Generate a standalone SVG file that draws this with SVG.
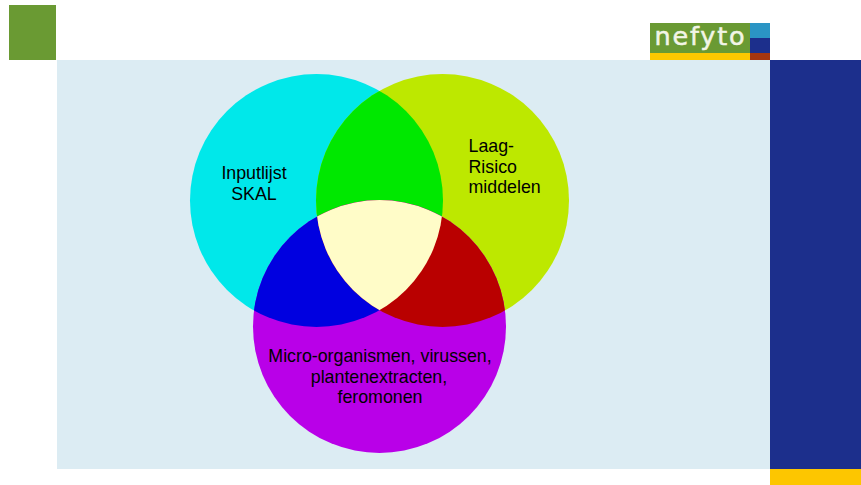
<svg xmlns="http://www.w3.org/2000/svg" width="861" height="485" viewBox="0 0 861 485">
<style>
.l{font-family:"Liberation Sans",Arial,sans-serif;font-size:17.8px;fill:#000;text-anchor:middle}
.s{text-anchor:start}
</style>
<defs>
<clipPath id="cc"><circle cx="316.5" cy="200.5" r="126.5"/></clipPath>
<clipPath id="cl"><circle cx="442.5" cy="200.5" r="126.5"/></clipPath>
</defs>
<rect width="861" height="485" fill="#fff"/>
<g id="background">
<rect x="57" y="60" width="713" height="409" fill="#dcecf3"/>
<rect x="770" y="60" width="91" height="409" fill="#1c2f8c"/>
<rect x="770" y="469" width="91" height="16" fill="#fdc600"/>
<rect x="9" y="5" width="47" height="55" fill="#6a9a33"/>
</g>
<g id="logo">
<rect x="650" y="23" width="110" height="30" fill="#6a9a33"/>
<rect x="650" y="53" width="100" height="7" fill="#fdc800"/>
<rect x="750" y="23" width="20" height="15" fill="#2b95c4"/>
<rect x="750" y="38" width="20" height="15" fill="#1c2f8c"/>
<rect x="750" y="53" width="20" height="7" fill="#a5360f"/>
<text x="654.5" y="45" font-family="'DejaVu Sans',sans-serif" font-size="25.5" letter-spacing="1.8" fill="#f2f5e6" stroke="#f2f5e6" stroke-width="0.5">nefyto</text>
</g>
<g id="venn-circles">
<circle id="circle-cyan" cx="316.5" cy="200.5" r="126.5" fill="#00e8ea"/>
<circle id="circle-lime" cx="442.5" cy="200.5" r="126.5" fill="#bde800"/>
<circle id="circle-purple" cx="379.5" cy="326.5" r="126.5" fill="#b900e8"/>
</g>
<g id="venn-overlaps">
<circle id="overlap-green" cx="442.5" cy="200.5" r="126.5" fill="#00e800" clip-path="url(#cc)"/>
<circle id="overlap-blue" cx="379.5" cy="326.5" r="126.5" fill="#0000e0" clip-path="url(#cc)"/>
<circle id="overlap-red" cx="379.5" cy="326.5" r="126.5" fill="#b90000" clip-path="url(#cl)"/>
<g clip-path="url(#cc)"><circle id="overlap-centre" cx="379.5" cy="326.5" r="126.5" fill="#fffcc8" clip-path="url(#cl)"/></g>
</g>
<g id="label-skal"><text class="l" x="254" y="179">Inputlijst</text><text class="l" x="254" y="200">SKAL</text></g>
<g id="label-laag"><text class="l s" x="468.5" y="152">Laag-</text><text class="l s" x="468.5" y="172.5">Risico</text><text class="l s" x="468.5" y="193">middelen</text></g>
<g id="label-micro"><text class="l" x="380" y="362">Micro-organismen, virussen,</text><text class="l" x="379" y="383">plantenextracten,</text><text class="l" x="380" y="403">feromonen</text></g>
</svg>
